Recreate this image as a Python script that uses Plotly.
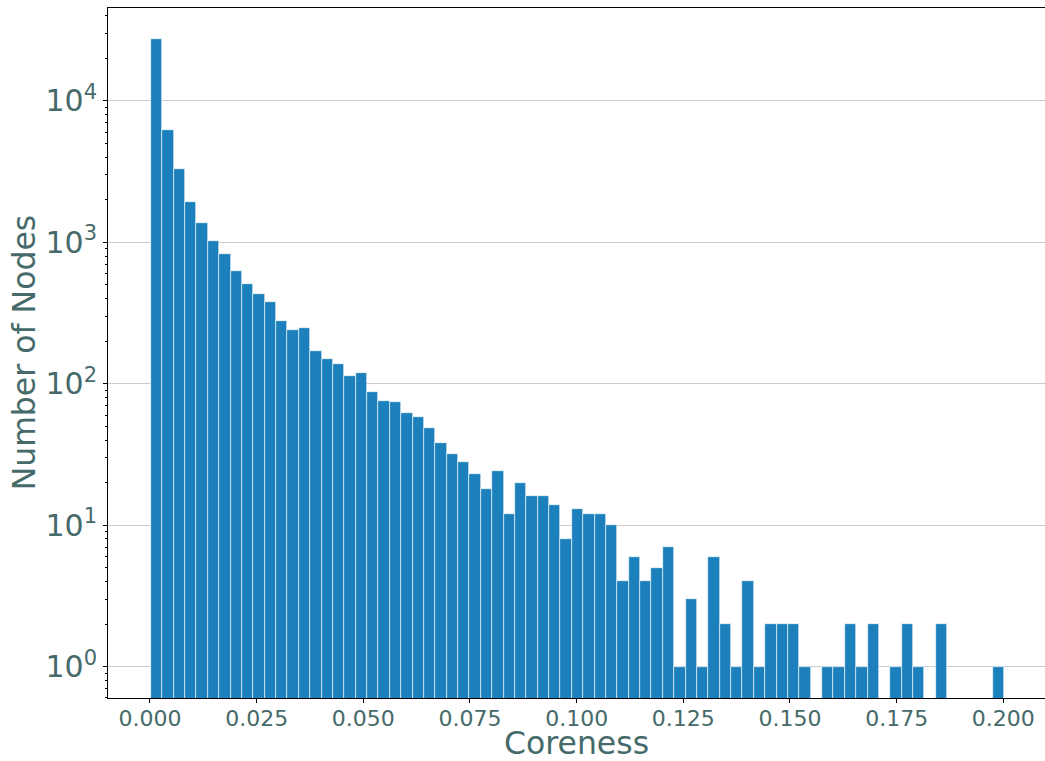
import plotly.graph_objects as go

# Histogram of coreness (75 equal-width bins)
bin_start = 0.00023
bin_width = 0.0026657
counts = [27200, 6190, 3280, 1920, 1360, 1030, 822, 624, 505, 430,
          377, 277, 239, 247, 170, 149, 137, 113, 120, 88,
          75, 74, 62, 58, 49, 38, 32, 28, 23, 18,
          24, 12, 20, 16, 16, 14, 8, 13, 12, 12,
          10, 4, 6, 4, 5, 7, 1, 3, 1, 6,
          2, 1, 4, 1, 2, 2, 2, 1, 0, 1,
          1, 2, 1, 2, 0, 1, 2, 1, 0, 2,
          0, 0, 0, 0, 1]

x_tickvals = [0.0, 0.025, 0.05, 0.075, 0.1, 0.125, 0.15, 0.175, 0.2]
x_ticktext = ["0.000", "0.025", "0.050", "0.075", "0.100", "0.125", "0.150", "0.175", "0.200"]
y_tickvals = [1, 10, 100, 1000, 10000]
y_ticktext = ["10<sup>0</sup>", "10<sup>1</sup>", "10<sup>2</sup>", "10<sup>3</sup>", "10<sup>4</sup>"]

centers = [bin_start + (i + 0.5) * bin_width for i in range(len(counts))]
yvals = [c if c > 0 else None for c in counts]
minor_vals = [m * 10 ** d for d in range(-1, 5) for m in range(2, 10)]

TEXT = "#466a6a"
FONT = "DejaVu Sans"

fig = go.Figure(go.Bar(
    x=centers, y=yvals, width=bin_width,
    marker=dict(color="#1b80bb", line=dict(color="white", width=0.6)),
))

fig.update_layout(
    width=1045, height=761,
    margin=dict(l=108, r=0, t=8, b=63, autoexpand=False),
    paper_bgcolor="white", plot_bgcolor="white",
    bargap=0, showlegend=False,
    font=dict(family=FONT, color=TEXT),
    annotations=[
        dict(text="Coreness", xref="paper", yref="paper", x=0.5005, y=0,
             xanchor="center", yanchor="middle", yshift=-45, showarrow=False,
             font=dict(size=31.5, color=TEXT, family=FONT)),
        dict(text="Number of Nodes", xref="paper", yref="paper", x=-0.0896, y=0.501,
             xanchor="center", yanchor="middle", textangle=-90, showarrow=False,
             font=dict(size=31.5, color=TEXT, family=FONT)),
    ],
)
fig.update_xaxes(
    range=[-0.00984, 0.20977], automargin=False,
    tickvals=x_tickvals, ticktext=x_ticktext,
    tickfont=dict(size=22, color=TEXT, family=FONT),
    ticks="outside", ticklen=4, tickcolor="black", ticklabelstandoff=-3,
    showline=True, linecolor="black", linewidth=1, mirror=True,
    showgrid=False, zeroline=False,
)
fig.update_yaxes(
    type="log", range=[-0.222, 4.657], automargin=False,
    tickvals=y_tickvals, ticktext=y_ticktext,
    tickfont=dict(size=30, color=TEXT, family=FONT),
    ticks="outside", ticklen=4, tickcolor="black",
    showline=True, linecolor="black", linewidth=1,
    showgrid=True, gridcolor="#cccccc", gridwidth=1,
    zeroline=False,
    minor=dict(tickvals=minor_vals, ticks="outside", ticklen=2, tickcolor="black", showgrid=False),
)

fig.write_html("out.html", config={"displayModeBar": False},
               post_script="document.body.style.margin='0';")
